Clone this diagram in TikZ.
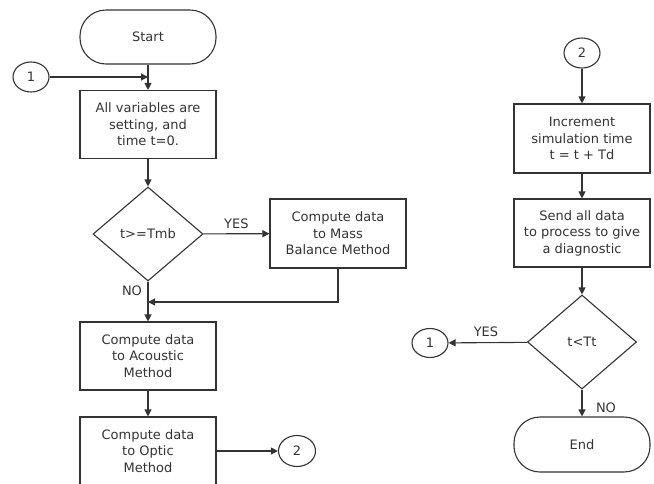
\documentclass[tikz,border=0pt]{standalone}
\usepackage{fontspec}
\setmainfont{DejaVu Sans}
\usetikzlibrary{shapes,arrows.meta}
\definecolor{ink}{RGB}{51,51,51}

\begin{document}
\begin{tikzpicture}[x=1pt,y=-1pt,line width=1.1pt,color=ink,
	txt/.style={font=\fontsize{13}{16.5}\selectfont},
	box/.style={txt,draw,rectangle,align=center,minimum width=136pt,minimum height=68pt,inner sep=2pt},
	term/.style={box,rounded corners=26pt,minimum height=54pt},
	decide/.style={txt,draw,diamond,minimum width=110pt,minimum height=94pt,inner sep=0pt},
	conn/.style={txt,draw,ellipse,minimum width=36pt,minimum height=30pt,inner sep=0pt},
	flow/.style={-{Triangle[length=7pt,width=7pt]}}]
					\useasboundingbox (0,0) rectangle (654,483);
					\clip (0,0) rectangle (654,483);
					
					% left column
					\node[term] (start) at (148,37) {Start};
					\node[conn] (oneA) at (31,77) {1};
					\node[box] (init) at (148,124.5) {All variables are\\setting, and\\time t=0.};
					\node[decide] (tmb) at (148,234) {t>=Tmb};
					\node[box,minimum height=69pt] (mass) at (338,233.5) {Compute data\\to Mass\\Balance Method};
					\node[box] (acou) at (148,356) {Compute data\\to Acoustic\\Method};
					\node[box] (opti) at (148,451) {Compute data\\to Optic\\Method};
					\node[conn,minimum width=37pt,minimum height=31pt] (twoA) at (297,451) {2};
					\coordinate (merge) at (148,302);
					
					% right column
					\node[conn] (twoB) at (582,53) {2};
					\node[box,minimum height=69pt] (incr) at (582,138.5) {Increment\\simulation time\\t = t + Td};
					\node[box] (send) at (582,233) {Send all data\\to process to give\\a diagnostic};
					\node[decide,minimum width=109pt] (tt) at (582,342) {t<Tt};
					\node[conn,minimum height=29pt] (oneB) at (430,343) {1};
					\node[term,minimum height=55pt] (fin) at (582,444.5) {End};
					
					\draw[flow] (start) -- (init);
					\draw[flow] (oneA) -- (oneA -| start);
					\draw[flow] (init) -- (tmb);
					\draw[flow] (tmb) -- (mass) node[txt,midway,yshift=10pt]{YES};
					\draw[flow] (tmb) -- (acou);
					\node[txt] at (132,291) {NO};
					\draw[flow] (mass.south) |- (merge);
					\draw[flow] (acou) -- (opti);
					\draw[flow] (opti) -- (twoA);
					
					\draw[flow] (twoB) -- (incr);
					\draw[flow] (incr) -- (send);
					\draw[flow] (send) -- (tt);
					\draw[flow] (tt) -- (oneB) node[txt,midway,xshift=-2pt,yshift=11pt]{YES};
					\draw[flow] (tt) -- (fin) node[txt,midway,xshift=24pt,yshift=-5pt]{NO};
				\end{tikzpicture}
\end{document}
